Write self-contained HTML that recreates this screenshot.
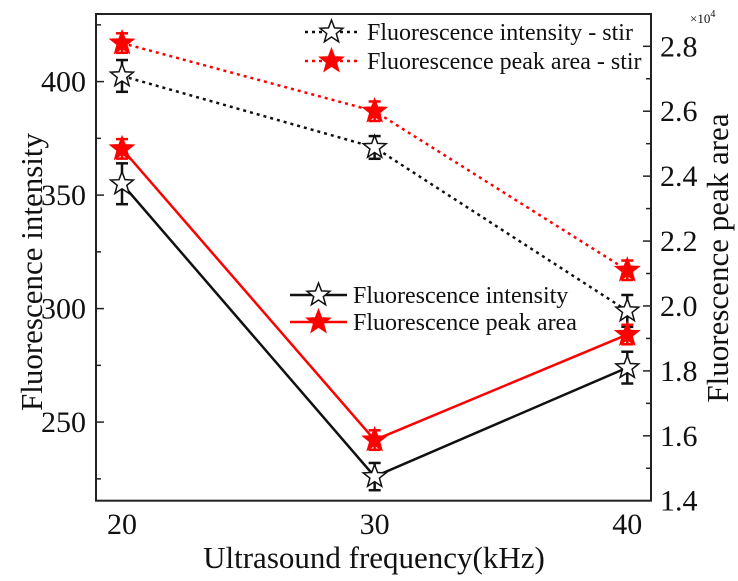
<!DOCTYPE html>
<html><head><meta charset="utf-8"><style>
body{margin:0;background:#fff}
svg text{font-family:"Liberation Serif",serif;fill:#111}
</style></head><body>
<svg id="c" width="738" height="576" xmlns="http://www.w3.org/2000/svg"></svg>
<script>
const categories=[20,30,40];
const intensityStir=[402.5,371,299];
const areaStir=[2.81,2.60,2.11];
const intensity=[355,226,274];
const area=[2.484,1.587,1.912];
const errIntensityStir=[7,5,7];
const errAreaStir=[0.03,0.03,0.03];
const errIntensity=[9,6,7];
const errArea=[0.03,0.03,0.03];
const leftTicks=[250,300,350,400];
const rightTicks=[1.4,1.6,1.8,2.0,2.2,2.4,2.6,2.8];

const L=96,R=651,T=14,B=500.7;
const xs=v=>122+(v-20)*(627.3-122)/20;
const yl=v=>81.6+(400-v)*2.27;
const yr=v=>46.3+(2.8-v)*324.6;
const svg=document.getElementById('c');
const NS='http://www.w3.org/2000/svg';
function mk(tag,attrs,parent){const e=document.createElementNS(NS,tag);for(const k in attrs)e.setAttribute(k,attrs[k]);(parent||svg).appendChild(e);return e;}
function starPts(cx,cy,r){let p=[];for(let i=0;i<10;i++){const a=-Math.PI/2+i*Math.PI/5;const rr=i%2?r*0.42:r;p.push((cx+rr*Math.cos(a)).toFixed(1)+','+(cy+rr*Math.sin(a)).toFixed(1));}return p.join(' ');}

const frame=mk('rect',{x:L,y:T,width:R-L,height:B-T,fill:'none',stroke:'#222','stroke-width':2});


for(let v=225;v<=425;v+=25){const y=yl(v);const major=leftTicks.includes(v);
 const t=mk('line',{x1:L,x2:L+(major?8:5),y1:y,y2:y,stroke:'#222','stroke-width':1.5});
 
 }
leftTicks.forEach(v=>{const t=mk('text',{x:L-10,y:yl(v)+10,'text-anchor':'end','font-size':30});t.textContent=v;
 
 });
for(let i=0;i<=14;i++){const v=1.4+i*0.1;const y=yr(v);if(y<T+1)continue;const major=i%2==0;
 const t=mk('line',{x1:R,x2:R-(major?8:5),y1:y,y2:y,stroke:'#222','stroke-width':1.5});
 
 }
rightTicks.forEach(v=>{const t=mk('text',{x:R+9,y:yr(v)+10,'font-size':30});t.textContent=v.toFixed(1);
 
 });
categories.forEach(c=>{const t=mk('text',{x:xs(c),y:534,'text-anchor':'middle','font-size':30});t.textContent=c;
 
 });
let t;
t=mk('text',{x:374,y:568,'text-anchor':'middle','font-size':31});t.textContent='Ultrasound frequency(kHz)';

t=mk('text',{x:0,y:0,'text-anchor':'middle','font-size':31,transform:'translate(42,272) rotate(-90)'});t.textContent='Fluorescence intensity';

t=mk('text',{x:0,y:0,'text-anchor':'middle','font-size':31,transform:'translate(728,258) rotate(-90)'});t.textContent='Fluorescence peak area';

t=mk('text',{x:690,y:23,'font-size':13});t.innerHTML='×10<tspan dy="-6" font-size="10">4</tspan>';


function series(name,vals,errs,ys,color,dashed,filled){
 const g=mk('g',{});
 
 
 const pts=vals.map((v,i)=>xs(categories[i])+','+ys(v)).join(' ');
 mk('polyline',{points:pts,fill:'none',stroke:color,'stroke-width':2.5,'stroke-dasharray':dashed?'3,4':'none'},g);
 vals.forEach((v,i)=>{const x=xs(categories[i]);const y1=ys(v+errs[i]),y2=ys(v-errs[i]);
  mk('line',{x1:x,x2:x,y1:y1,y2:y2,stroke:color,'stroke-width':2.5},g);
  mk('line',{x1:x-6,x2:x+6,y1:y1,y2:y1,stroke:color,'stroke-width':2.5},g);
  mk('line',{x1:x-6,x2:x+6,y1:y2,y2:y2,stroke:color,'stroke-width':2.5},g);
  const s=mk('polygon',{points:starPts(x,ys(v),12),fill:filled?color:'#fff',stroke:color,'stroke-width':1.5},g);
  
  
 });
}
series('intensity-stir-series',intensityStir,errIntensityStir,yl,'#111',true,false);
series('area-stir-series',areaStir,errAreaStir,yr,'#f00',true,true);
series('intensity-series',intensity,errIntensity,yl,'#111',false,false);
series('area-series',area,errArea,yr,'#f00',false,true);

function legend(x1,x2,y,color,dashed,filled,label,tx){
 const g=mk('g',{});
 
 
 mk('line',{x1:x1,x2:x2,y1:y,y2:y,stroke:color,'stroke-width':2.5,'stroke-dasharray':dashed?'3,4':'none'},g);
 mk('polygon',{points:starPts((x1+x2)/2,y,12),fill:filled?color:'#fff',stroke:color,'stroke-width':1.5},g);
 const tt=mk('text',{x:tx,y:y+8,'font-size':24},g);tt.textContent=label;
}
legend(305,358,32,'#111',true,false,'Fluorescence intensity - stir',367);
legend(305,358,61,'#f00',true,true,'Fluorescence peak area - stir',367);
legend(290,347,295,'#111',false,false,'Fluorescence intensity',353);
legend(290,347,322,'#f00',false,true,'Fluorescence peak area',353);
</script>
</body></html>
